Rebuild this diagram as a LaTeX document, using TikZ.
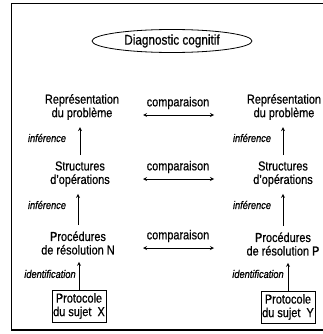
\documentclass[tikz,border=0pt]{standalone}
\usepackage{fontspec}
\setmainfont{Liberation Sans}[FakeStretch=0.84, FakeBold=0.6]
\usetikzlibrary{shapes.geometric}
\tikzset{
	etape/.style={align=center, inner sep=2pt, font=\fontsize{13}{13.5}\selectfont},
	lien/.style={inner sep=1pt, font=\fontsize{11}{12}\selectfont\itshape},
	sujet/.style={draw, thick, align=center, inner sep=1pt, minimum width=54pt, minimum height=32pt, font=\fontsize{13}{13.5}\selectfont},
}
\begin{document}
\begin{tikzpicture}[x=1pt, y=-1pt]
	% page size
	\useasboundingbox (0,0) rectangle (322,334);
	% frame, open on the right
	\draw[line width=1.3pt] (323,3.5) -- (11.5,3.5) -- (11.5,330) -- (323,330);
	% title
	\node[draw, thick, ellipse, minimum width=160pt, minimum height=23pt, inner sep=1pt,
		font=\fontsize{14}{16}\selectfont] (titre) at (172,41) {Diagnostic cognitif};
	% left column (subject X)
	\node[etape] (x_1) at (82,107) {Représentation\\du problème};
	\node[etape] (x_2) at (80,174) {Structures\\d'opérations};
	\node[etape] (x_3) at (78,243) {Procédures\\de résolution N};
	\node[sujet] (px) at (79,306) {Protocole\\du sujet~ X};
	% right column (subject Y)
	\node[etape] (y_1) at (284,107) {Représentation\\du problème};
	\node[etape] (y_2) at (283,174) {Structures\\d'opérations};
	\node[etape] (y_3) at (283,244) {Procédures\\de résolution P};
	\node[sujet] (py) at (288,307) {Protocole\\du sujet~ Y};
	% comparisons between the columns
	\foreach \ypos [count=\index] in {115,179,248}
	{
		\coordinate (cl_\index) at (143,\ypos);
		\coordinate (cr_\index) at (214,\ypos);
		\node[etape] (c_\index) at (178,\ypos-12) {comparaison};
		\draw[stealth-stealth, thick] (cl_\index) -- (cr_\index);
	}
	% upward links
	\foreach \i/\j in {2/1,3/2}
	{
		\draw[-stealth, thick] ([yshift=4pt]x_\i.north) -- ([yshift=-5pt]x_\i.north |- x_\j.south);
		\draw[-stealth, thick] ([yshift=4pt]y_\i.north) -- ([yshift=-5pt]y_\i.north |- y_\j.south);
	}
	\draw[-stealth, thick] (px.north) -- ([yshift=-5pt]px.north |- x_3.south);
	\draw[-stealth, thick] (py.north) -- ([yshift=-5pt]py.north |- y_3.south);
	% link labels
	\node[lien] (i_1) at (47,138) {inférence};
	\node[lien] (i_2) at (47,205) {inférence};
	\node[lien] (i_3) at (252,138) {inférence};
	\node[lien] (i_4) at (252,205) {inférence};
	\node[lien] (d_1) at (50,274) {identification};
	\node[lien] (d_2) at (258,274) {identification};
\end{tikzpicture}
\end{document}
